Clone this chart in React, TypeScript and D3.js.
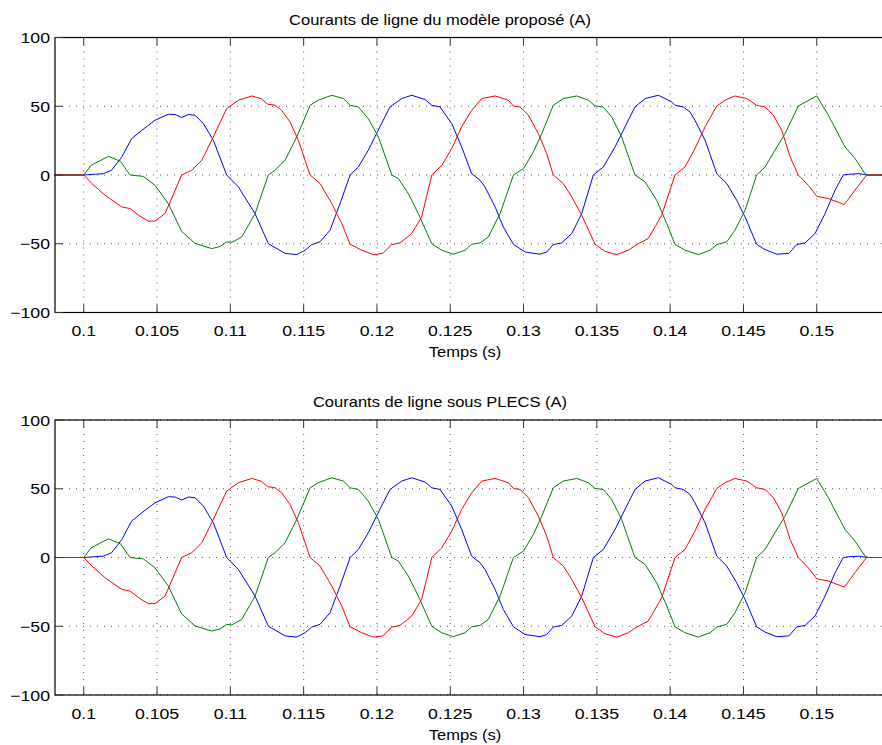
import React from "react";
import * as d3 from "d3";

// ---------- data (time in s, current in A) ----------
const redSeries: [number, number][] = [
  [0.098, 0], [0.1, 0], [0.10055, -6.2], [0.10145, -14.7], [0.10259, -23.2], [0.10316, -24.4],
  [0.10384, -30], [0.10441, -33.6], [0.10486, -33.5], [0.10555, -28], [0.10668, 0], [0.10737, 3.5],
  [0.10805, 10.7], [0.10873, 25.3], [0.10975, 48.3], [0.11055, 54.4], [0.11146, 57.5], [0.1121, 55.5],
  [0.11255, 51.5], [0.11305, 50.7], [0.1135, 47], [0.11407, 38.6], [0.11464, 25.3], [0.1151, 10.7],
  [0.11544, 0], [0.11612, -6.2], [0.11692, -20.8], [0.1176, -35.3], [0.11817, -50.4], [0.11896, -54.7],
  [0.11976, -57.9], [0.1204, -57], [0.12101, -50.6], [0.12157, -49.4], [0.12237, -42.6], [0.12305, -30.5],
  [0.12374, 0], [0.12442, 7], [0.1251, 19.2], [0.12578, 35], [0.12646, 47], [0.12715, 55.6],
  [0.12806, 57.5], [0.12896, 54.4], [0.12931, 50.2], [0.12976, 49.5], [0.13033, 43.5], [0.13101, 30.1],
  [0.13158, 15.6], [0.13203, 0], [0.13271, -6.2], [0.13329, -16], [0.13397, -29.3], [0.13488, -50.4],
  [0.13556, -55.5], [0.13636, -57.9], [0.13715, -54.7], [0.13772, -50.6], [0.13851, -46.2], [0.13942, -29.3],
  [0.14033, 0], [0.14101, 5.8], [0.14169, 19.2], [0.14238, 35], [0.14318, 50.2], [0.14374, 54.4],
  [0.14442, 57.5], [0.14522, 55.6], [0.1459, 50.7], [0.14647, 49.5], [0.14704, 43.5], [0.14761, 32.5],
  [0.14818, 13.2], [0.14874, 0], [0.14943, -7.5], [0.15, -15.5], [0.15079, -17.1], [0.15188, -21.5],
  [0.15261, -11], [0.1534, 0], [0.1545, 0],
];

const greenSeries: [number, number][] = [
  [0.098, 0], [0.1, 0], [0.1005, 7], [0.10168, 13.6], [0.1025, 10], [0.10316, 0], [0.10407, -1],
  [0.10486, -7.5], [0.10577, -20.8], [0.10668, -41], [0.1076, -49.8], [0.10873, -53.5], [0.1093, -52],
  [0.10975, -48.6], [0.1101, -49], [0.11078, -45], [0.11169, -28], [0.11259, 0], [0.11305, 3.5],
  [0.11373, 10.7], [0.11453, 27.7], [0.11544, 50.7], [0.116, 54.4], [0.11692, 58], [0.11771, 55.6],
  [0.11817, 50.7], [0.11873, 49.5], [0.11941, 41], [0.1201, 27.7], [0.12101, 0], [0.12146, -2.6],
  [0.12214, -13.5], [0.12282, -28], [0.12374, -50], [0.12442, -54.7], [0.12521, -57.6], [0.12601, -54.7],
  [0.12646, -50.4], [0.12703, -49.4], [0.1276, -45], [0.1284, -28], [0.12931, 0], [0.13, 4.7],
  [0.13067, 16.8], [0.13124, 30.1], [0.13203, 50.7], [0.13271, 55.6], [0.13363, 57.5], [0.13442, 54.4],
  [0.13488, 50.2], [0.13544, 49.5], [0.13601, 42.2], [0.13669, 27.7], [0.1376, 0], [0.13829, -5],
  [0.13908, -18.4], [0.13977, -35.3], [0.14033, -50.4], [0.14101, -54.7], [0.14192, -57.9], [0.14272, -54.7],
  [0.14318, -50.6], [0.14386, -48.6], [0.14442, -40.2], [0.14511, -25.6], [0.1459, 0], [0.14647, 5.8],
  [0.14715, 18], [0.14784, 30.1], [0.14874, 50.2], [0.15, 57.5], [0.15079, 43.5], [0.15193, 20.4],
  [0.15261, 12], [0.15329, 1], [0.15352, 0], [0.1545, 0],
];

const blueSeries: [number, number][] = [
  [0.098, 0], [0.1, 0], [0.10134, 1], [0.1019, 3.5], [0.10259, 13], [0.10327, 26.5], [0.10396, 32.5],
  [0.10486, 39.8], [0.10577, 44.2], [0.10623, 44], [0.10668, 41.8], [0.10714, 44], [0.1076, 43.4],
  [0.10816, 37.4], [0.10884, 25.3], [0.10975, 0], [0.11055, -8.7], [0.11168, -28], [0.1126, -50],
  [0.11373, -57], [0.11453, -57.9], [0.1151, -54.7], [0.11555, -50.6], [0.11612, -48.6], [0.1168, -40.2],
  [0.11748, -20.8], [0.11817, 0], [0.11873, 5.8], [0.11941, 18], [0.1202, 35], [0.12089, 49.5],
  [0.12169, 55.6], [0.12237, 58], [0.12328, 54.9], [0.12374, 50.7], [0.1243, 49.5], [0.1251, 37.4],
  [0.12578, 20.4], [0.12646, 1], [0.12703, -3.8], [0.12737, -8.7], [0.12806, -23.2], [0.12862, -37.8],
  [0.12931, -50.4], [0.1301, -56], [0.13112, -57.6], [0.13158, -56], [0.13203, -50.6], [0.1326, -49.4],
  [0.13329, -42.6], [0.13397, -28], [0.13476, 0], [0.13544, 5.8], [0.13624, 20.4], [0.13692, 35],
  [0.1376, 49.5], [0.13829, 55.6], [0.1392, 58], [0.14011, 53.1], [0.14033, 50.7], [0.14089, 49.5],
  [0.14135, 45.9], [0.14169, 39.8], [0.14238, 25.3], [0.14318, 1], [0.14386, -6.2], [0.14454, -18.4],
  [0.14511, -30.5], [0.1459, -50.4], [0.14647, -54.2], [0.14727, -57.6], [0.1481, -57], [0.14863, -50.6],
  [0.1492, -49.4], [0.14988, -42.6], [0.15057, -28], [0.15125, -11], [0.15181, 0], [0.15216, 0.5],
  [0.15295, 1], [0.1534, 0], [0.1545, 0],
];

const xTicks = [0.1, 0.105, 0.11, 0.115, 0.12, 0.125, 0.13, 0.135, 0.14, 0.145, 0.15];
const xTickLabels = ["0.1", "0.105", "0.11", "0.115", "0.12", "0.125", "0.13", "0.135", "0.14", "0.145", "0.15"];
const yTicks = [-100, -50, 0, 50, 100];
const yTickLabels = ["\u2212100", "\u221250", "0", "50", "100"];
const titles = ["Courants de ligne du modèle proposé (A)", "Courants de ligne sous PLECS (A)"];
const xLabel = "Temps (s)";

const W = 882;
const H = 745;
const left = 55;
const right = 882;
const panelTops = [37.5, 420];
const panelH = 275;
const FONT = "'Liberation Sans', Arial, Helvetica, sans-serif";
const SX = 1.18;

const x = d3.scaleLinear().domain([0.09804, 0.15445]).range([left, right]);

function Panel({ top, title }: { top: number; title: string }) {
  const y = d3.scaleLinear().domain([-100, 100]).range([top + panelH, top]);
  const line = d3
    .line<[number, number]>()
    .x((d) => x(d[0]))
    .y((d) => y(d[1]));
  const bottom = top + panelH;
  const cx = (left + right) / 2;
  return (
    <g>
      {/* grid */}
      {xTicks.map((t) => (
        <line key={"gx" + t} x1={x(t)} x2={x(t)} y1={top} y2={bottom} stroke="#555" strokeWidth={1} strokeDasharray="1,6" />
      ))}
      {yTicks.map((v) => (
        <line key={"gy" + v} x1={left} x2={right} y1={y(v)} y2={y(v)} stroke="#555" strokeWidth={1} strokeDasharray="1,6" />
      ))}
      {/* series */}
      <path d={line(blueSeries) || ""} fill="none" stroke="#0000ff" strokeWidth={1} />
      <path d={line(greenSeries) || ""} fill="none" stroke="#008000" strokeWidth={1} />
      <path d={line(redSeries) || ""} fill="none" stroke="#ff0000" strokeWidth={1} />
      {/* axes box */}
      <rect x={left} y={top} width={right - left + 5} height={panelH} fill="none" stroke="#000" strokeWidth={1.2} />
      {/* ticks */}
      {xTicks.map((t) => (
        <g key={"tx" + t}>
          <line x1={x(t)} x2={x(t)} y1={bottom} y2={bottom - 8} stroke="#333" />
          <line x1={x(t)} x2={x(t)} y1={top} y2={top + 8} stroke="#333" />
        </g>
      ))}
      {yTicks.map((v) => (
        <line key={"ty" + v} x1={left} x2={left + 8} y1={y(v)} y2={y(v)} stroke="#333" />
      ))}
      {/* tick labels */}
      {xTicks.map((t, i) => (
        <text key={"lx" + t} transform={`translate(${x(t)},${bottom + 23.5}) scale(${SX},1)`} textAnchor="middle" fontFamily={FONT} fontSize={15} fill="#000">
          {xTickLabels[i]}
        </text>
      ))}
      {yTicks.map((v, i) => (
        <text key={"ly" + v} transform={`translate(${left - 5},${y(v) + 5.5}) scale(${SX},1)`} textAnchor="end" fontFamily={FONT} fontSize={15} fill="#000">
          {yTickLabels[i]}
        </text>
      ))}
      <text transform={`translate(440,${top - 13}) scale(${SX},1)`} textAnchor="middle" fontFamily={FONT} fontSize={14} fill="#000">
        {title}
      </text>
      <text transform={`translate(465,${bottom + 44.5}) scale(${SX},1)`} textAnchor="middle" fontFamily={FONT} fontSize={14} fill="#000">
        {xLabel}
      </text>
    </g>
  );
}

export default function App() {
  return (
    <svg width={W} height={H} style={{ position: "absolute", left: 0, top: 0, background: "#fff" }}>
      <rect x={0} y={0} width={W} height={H} fill="#fff" />
      {panelTops.map((t, i) => (
        <Panel key={i} top={t} title={titles[i]} />
      ))}
    </svg>
  );
}
